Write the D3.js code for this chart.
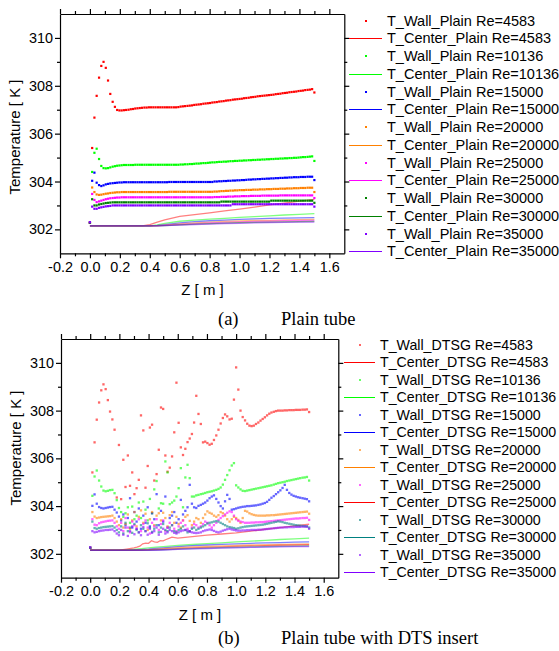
<!DOCTYPE html>
<html><head><meta charset="utf-8">
<script src="https://cdn.jsdelivr.net/npm/d3@7"></script>
<style>
body{margin:0;background:#fff}
svg{display:block}
text{font-family:"Liberation Sans",Arial,sans-serif;fill:#000}
</style></head>
<body><svg id="c" width="559" height="651"></svg>
<script>
// ---------- data ----------
const reynolds = ["4583","10136","15000","20000","25000","30000","35000"];
const xMajor = [-0.2,0,0.2,0.4,0.6,0.8,1.0,1.2,1.4,1.6];
const xMinor = [-0.1,0.1,0.3,0.5,0.7,0.9,1.1,1.3,1.5];
const yMajor = [302,304,306,308,310];
const yMinor = [303,305,307,309];

const zGrid = [0,0.015,0.03,0.045,0.061,0.076,0.091,0.106,0.121,0.136,
0.152,0.167,0.182,0.197,0.212,0.227,0.242,0.258,0.273,0.288,
0.303,0.318,0.333,0.348,0.364,0.379,0.394,0.409,0.424,0.439,
0.455,0.47,0.485,0.5,0.515,0.53,0.545,0.561,0.576,0.591,
0.606,0.621,0.636,0.652,0.667,0.682,0.697,0.712,0.727,0.742,
0.758,0.773,0.788,0.803,0.818,0.833,0.848,0.864,0.879,0.894,
0.909,0.924,0.939,0.955,0.97,0.985,1.0,1.015,1.03,1.045,
1.061,1.076,1.091,1.106,1.121,1.136,1.152,1.167,1.182,1.197,
1.212,1.227,1.242,1.258,1.273,1.288,1.303,1.318,1.333,1.348,
1.364,1.379,1.394,1.409,1.424,1.439,1.455,1.47,1.485,1.5];

// (a) plain tube, wall temperatures
const wallPlain4583 = [302.28,305.4,306.67,307.58,308.34,308.83,309.0,308.75,308.22,307.66,
307.33,307.12,306.99,306.97,306.97,306.98,306.99,307.0,307.02,307.03,
307.05,307.06,307.07,307.08,307.09,307.09,307.1,307.1,307.1,307.1,
307.1,307.1,307.1,307.1,307.1,307.1,307.1,307.1,307.1,307.11,
307.13,307.14,307.15,307.16,307.17,307.18,307.2,307.21,307.22,307.23,
307.25,307.26,307.27,307.28,307.3,307.31,307.32,307.34,307.35,307.36,
307.38,307.39,307.4,307.42,307.43,307.44,307.45,307.46,307.48,307.49,
307.5,307.52,307.53,307.54,307.56,307.57,307.58,307.59,307.6,307.61,
307.62,307.63,307.65,307.66,307.67,307.69,307.7,307.71,307.73,307.74,
307.75,307.76,307.78,307.79,307.8,307.82,307.83,307.84,307.86,307.72];
const wallPlain10136 = [302.28,304.4,305.2,305.37,304.94,304.65,304.56,304.55,304.56,304.59,
304.62,304.64,304.66,304.67,304.68,304.69,304.69,304.69,304.69,304.69,
304.7,304.7,304.7,304.7,304.7,304.7,304.7,304.7,304.7,304.7,
304.7,304.7,304.7,304.7,304.7,304.7,304.7,304.7,304.7,304.7,
304.71,304.71,304.72,304.72,304.73,304.73,304.74,304.75,304.75,304.76,
304.77,304.77,304.78,304.79,304.8,304.8,304.81,304.82,304.82,304.83,
304.83,304.84,304.85,304.85,304.86,304.86,304.87,304.87,304.88,304.88,
304.89,304.89,304.9,304.9,304.91,304.91,304.92,304.92,304.93,304.93,
304.94,304.94,304.95,304.95,304.96,304.96,304.97,304.97,304.98,304.98,
304.99,304.99,305.0,305.01,305.02,305.02,305.03,305.04,305.05,304.86];
const wallPlain15000 = [302.28,304.03,304.37,303.95,303.85,303.81,303.84,303.88,303.9,303.92,
303.93,303.94,303.95,303.96,303.96,303.97,303.97,303.97,303.97,303.97,
303.97,303.97,303.97,303.97,303.97,303.97,303.97,303.97,303.97,303.97,
303.97,303.97,303.97,303.97,303.97,303.98,303.98,303.98,303.98,303.98,
303.98,303.98,303.98,303.98,303.98,303.98,303.98,303.98,303.98,303.98,
303.98,303.98,303.98,303.98,303.98,304.0,304.0,304.01,304.01,304.02,
304.02,304.03,304.03,304.04,304.04,304.05,304.05,304.06,304.06,304.07,
304.08,304.08,304.09,304.09,304.1,304.1,304.11,304.11,304.12,304.12,
304.13,304.13,304.14,304.14,304.15,304.15,304.16,304.16,304.17,304.17,
304.18,304.18,304.18,304.19,304.19,304.19,304.2,304.2,304.2,304.06];
const wallPlain20000 = [302.28,303.75,303.56,303.46,303.44,303.45,303.47,303.49,303.5,303.52,
303.53,303.54,303.55,303.55,303.56,303.56,303.56,303.56,303.56,303.56,
303.56,303.56,303.56,303.56,303.56,303.56,303.56,303.56,303.56,303.56,
303.56,303.56,303.56,303.56,303.56,303.57,303.57,303.57,303.57,303.57,
303.57,303.57,303.57,303.57,303.57,303.57,303.57,303.57,303.57,303.57,
303.57,303.57,303.57,303.57,303.57,303.58,303.58,303.59,303.6,303.6,
303.61,303.61,303.62,303.62,303.63,303.63,303.64,303.64,303.64,303.65,
303.65,303.65,303.66,303.66,303.66,303.67,303.67,303.67,303.68,303.68,
303.68,303.69,303.69,303.69,303.7,303.7,303.7,303.71,303.71,303.71,
303.72,303.72,303.72,303.73,303.73,303.73,303.74,303.74,303.74,303.56];
const wallPlain25000 = [302.28,303.48,303.23,303.14,303.17,303.2,303.23,303.26,303.28,303.3,
303.31,303.32,303.33,303.33,303.34,303.34,303.34,303.34,303.34,303.34,
303.34,303.34,303.34,303.34,303.34,303.34,303.34,303.34,303.34,303.34,
303.34,303.34,303.34,303.34,303.34,303.34,303.34,303.34,303.34,303.34,
303.34,303.34,303.34,303.34,303.34,303.34,303.34,303.34,303.34,303.34,
303.34,303.34,303.34,303.34,303.34,303.35,303.35,303.35,303.36,303.36,
303.36,303.37,303.37,303.37,303.38,303.38,303.38,303.39,303.39,303.39,
303.39,303.4,303.4,303.4,303.4,303.4,303.41,303.41,303.41,303.41,
303.41,303.41,303.41,303.41,303.42,303.42,303.42,303.42,303.42,303.42,
303.42,303.42,303.42,303.42,303.42,303.42,303.42,303.42,303.42,303.31];
const wallPlain30000 = [302.28,303.26,303.0,303.0,303.04,303.06,303.08,303.1,303.11,303.12,
303.13,303.13,303.13,303.13,303.13,303.13,303.13,303.13,303.13,303.13,
303.13,303.13,303.13,303.13,303.13,303.13,303.13,303.13,303.13,303.13,
303.13,303.13,303.13,303.13,303.13,303.13,303.13,303.13,303.13,303.13,
303.13,303.13,303.13,303.13,303.13,303.13,303.13,303.13,303.13,303.13,
303.13,303.13,303.13,303.13,303.13,303.13,303.13,303.13,303.16,303.16,
303.16,303.16,303.16,303.16,303.16,303.16,303.16,303.16,303.16,303.16,
303.16,303.16,303.16,303.16,303.16,303.16,303.16,303.16,303.16,303.16,
303.2,303.2,303.2,303.2,303.2,303.2,303.2,303.2,303.2,303.2,
303.2,303.2,303.2,303.2,303.2,303.2,303.2,303.2,303.2,303.11];
const wallPlain35000 = [302.3,302.95,302.86,302.86,302.9,302.92,302.94,302.96,302.97,302.98,
303.0,303.0,303.0,303.0,303.0,303.0,303.0,303.0,303.0,303.0,
303.0,303.0,303.0,303.0,303.0,303.0,303.0,303.0,303.0,303.0,
303.0,303.0,303.0,303.0,303.0,303.0,303.0,303.0,303.0,303.0,
303.0,303.0,303.0,303.0,303.0,303.0,303.0,303.0,303.0,303.0,
303.0,303.0,303.0,303.0,303.0,303.0,303.0,303.0,303.0,303.0,
303.0,303.0,303.0,303.05,303.05,303.05,303.05,303.05,303.05,303.05,
303.05,303.05,303.05,303.05,303.05,303.05,303.05,303.05,303.05,303.05,
303.05,303.05,303.05,303.05,303.05,303.05,303.05,303.05,303.05,303.05,
303.05,303.05,303.05,303.05,303.05,303.05,303.05,303.05,303.05,302.95];

// centre-line temperatures
const centerZ = [0,0.1,0.2,0.25,0.3,0.35,0.4,0.45,0.5,0.6,0.7,0.8,0.9,1.0,1.1,1.2,1.3,1.4,1.5];
const centerPlain4583  = [302.15,302.15,302.15,302.15,302.15,302.15,302.2,302.3,302.4,302.54,302.62,302.69,302.77,302.85,302.93,303.02,303.1,303.18,303.25];
const centerPlain10136 = [302.15,302.15,302.15,302.15,302.15,302.15,302.15,302.19,302.25,302.34,302.39,302.43,302.46,302.5,302.53,302.56,302.6,302.63,302.66];
const centerPlain15000 = [302.15,302.15,302.15,302.15,302.15,302.15,302.15,302.17,302.2,302.27,302.32,302.36,302.39,302.42,302.44,302.46,302.47,302.48,302.49];
const centerPlain20000 = [302.15,302.15,302.15,302.15,302.15,302.15,302.15,302.16,302.18,302.23,302.27,302.3,302.33,302.35,302.37,302.38,302.4,302.41,302.42];
const centerPlain25000 = [302.15,302.15,302.15,302.15,302.15,302.15,302.15,302.15,302.17,302.21,302.24,302.27,302.29,302.31,302.33,302.34,302.36,302.37,302.38];
const centerPlain30000 = [302.15,302.15,302.15,302.15,302.15,302.15,302.15,302.15,302.16,302.19,302.22,302.24,302.26,302.28,302.29,302.3,302.31,302.32,302.33];
const centerPlain35000 = [302.15,302.15,302.15,302.15,302.15,302.15,302.15,302.15,302.16,302.18,302.2,302.22,302.24,302.25,302.27,302.28,302.29,302.3,302.3];

// (b) plain tube with DTS insert, wall temperatures
const wallDtsg4583 = [302.25,305.41,306.67,307.62,308.34,308.85,309.1,308.9,308.44,307.96,
307.63,307.2,304.36,306.56,304.29,305.94,304.8,306.12,304.85,305.41,
304.5,304.75,305.1,307.8,307.17,304.77,305.68,307.29,307.41,305.07,
305.34,306.36,308.13,308.07,306.12,305.44,305.61,306.08,307.09,309.17,
307.49,306.46,306.14,306.4,306.68,306.83,307.02,307.5,308.62,307.86,
307.44,306.67,306.7,306.64,306.57,306.61,306.77,306.96,307.2,307.46,
307.69,307.84,307.76,307.63,307.66,308.46,309.81,308.88,308.0,307.73,
307.59,307.45,307.37,307.35,307.37,307.44,307.5,307.58,307.65,307.72,
307.8,307.87,307.92,307.95,307.98,308.0,308.0,308.0,308.01,308.01,
308.02,308.02,308.02,308.03,308.03,308.03,308.04,308.04,308.05,307.94];
const wallDtsg10136 = [302.25,304.43,305.24,305.49,305.07,304.82,304.65,304.62,304.64,304.67,
304.68,304.54,304.25,303.92,303.75,303.55,303.7,303.95,303.3,303.98,
303.45,303.6,304.15,303.5,304.19,303.85,303.4,304.3,303.7,304.7,
305.05,303.9,304.12,304.1,305.87,305.41,304.08,304.15,304.23,304.4,
304.75,305.59,303.95,305.2,305.73,305.17,304.4,304.4,304.45,304.47,
304.5,304.52,304.55,304.58,304.6,304.62,304.65,304.68,304.72,304.78,
304.9,305.1,305.3,305.5,305.7,305.8,304.87,304.78,304.7,304.64,
304.63,304.65,304.67,304.69,304.71,304.73,304.75,304.77,304.79,304.81,
304.83,304.85,304.87,304.9,304.93,304.96,304.98,305.0,305.02,305.05,
305.07,305.09,305.11,305.13,305.15,305.17,305.19,305.2,305.22,305.07];
const wallDtsg15000 = [302.25,304.01,304.49,304.1,303.96,303.92,303.9,303.92,303.94,303.96,
303.97,303.85,303.73,303.56,303.4,303.65,303.2,303.5,304.33,303.1,
303.75,303.35,303.9,303.05,303.6,303.3,303.95,303.15,303.7,303.45,
304.5,303.2,303.8,303.35,304.4,303.1,303.5,303.6,303.75,303.3,
303.45,304.26,303.65,303.8,303.95,304.89,304.1,303.95,303.92,304.01,
304.05,304.1,304.15,304.23,304.33,304.4,304.45,304.3,304.15,304.0,
303.9,304.2,304.47,304.3,303.85,303.87,303.9,303.93,303.95,303.97,
303.98,304.0,304.0,304.01,304.02,304.03,304.05,304.07,304.1,304.13,
304.18,304.26,304.35,304.42,304.5,304.58,304.66,304.76,304.89,304.68,
304.55,304.48,304.43,304.4,304.37,304.35,304.33,304.31,304.29,304.2];
const wallDtsg20000 = [302.25,303.75,303.56,303.5,303.52,303.54,303.55,303.56,303.57,303.58,
303.6,303.5,303.35,303.2,303.45,303.1,303.25,303.65,303.05,303.4,
303.75,303.15,303.55,303.82,303.3,303.68,303.0,303.45,303.75,303.2,
303.6,303.7,303.4,303.72,303.5,303.15,303.62,303.75,303.3,303.55,
303.25,303.1,303.4,303.55,303.62,303.38,303.2,303.35,303.5,303.45,
303.3,303.5,303.65,303.78,303.72,303.68,303.6,303.55,303.62,303.75,
303.7,303.6,303.45,303.35,303.45,303.55,303.5,303.42,303.3,303.5,
303.8,303.77,303.7,303.66,303.63,303.61,303.6,303.6,303.6,303.6,
303.61,303.61,303.62,303.62,303.63,303.64,303.65,303.66,303.67,303.68,
303.69,303.7,303.71,303.72,303.73,303.74,303.75,303.76,303.77,303.68];
const wallDtsg25000 = [302.25,303.45,303.22,303.2,303.28,303.32,303.34,303.36,303.38,303.39,
303.4,303.3,303.15,303.05,303.3,302.95,303.5,303.1,302.9,303.35,
303.2,303.05,303.45,302.95,303.25,303.4,303.1,302.85,303.3,303.15,
303.45,303.0,303.25,303.4,302.95,303.1,303.3,303.2,303.05,302.95,
303.15,303.3,303.4,303.2,303.05,302.95,303.1,303.25,303.2,303.1,
303.15,303.25,303.35,303.3,303.2,303.1,303.2,303.3,303.42,303.5,
303.58,303.65,303.72,303.78,303.75,303.6,303.45,303.38,303.35,303.33,
303.3,303.3,303.3,303.31,303.31,303.32,303.32,303.33,303.33,303.34,
303.35,303.36,303.37,303.38,303.39,303.4,303.41,303.42,303.43,303.44,
303.45,303.46,303.47,303.48,303.48,303.49,303.5,303.5,303.51,303.42];
const wallDtsg30000 = [302.25,303.35,303.08,303.05,303.08,303.1,303.12,303.13,303.14,303.15,
303.16,303.1,303.0,302.9,303.15,302.85,303.3,302.95,303.1,302.88,
303.25,303.0,302.9,303.2,303.05,302.95,303.28,303.1,302.92,303.05,
303.2,302.9,303.1,303.25,303.0,302.95,303.1,303.2,302.95,302.9,
303.0,303.05,303.15,303.0,302.9,302.95,303.05,303.1,303.0,303.05,
303.1,303.15,303.2,303.27,303.3,303.32,303.35,303.37,303.35,303.3,
303.25,303.2,303.15,303.12,303.1,303.08,303.05,303.07,303.1,303.12,
303.14,303.15,303.16,303.17,303.18,303.19,303.2,303.21,303.22,303.24,
303.26,303.28,303.3,303.32,303.34,303.36,303.35,303.33,303.3,303.28,
303.26,303.24,303.22,303.2,303.19,303.18,303.17,303.16,303.15,303.1];
const wallDtsg35000 = [302.28,302.95,302.9,302.92,302.95,302.97,302.98,303.0,303.0,303.01,
303.02,302.95,302.85,302.78,303.0,302.8,303.1,302.75,302.95,303.15,
302.82,303.05,302.9,302.78,303.12,302.95,302.8,303.05,302.88,302.95,
303.1,302.8,302.92,303.05,302.85,302.9,303.0,302.95,302.88,302.85,
302.9,302.95,302.98,303.0,302.97,302.93,302.9,302.88,302.87,302.88,
302.9,302.95,302.98,303.0,303.02,303.0,302.96,302.92,302.9,302.93,
302.97,303.0,303.03,303.05,303.02,303.0,302.98,302.97,302.97,302.98,
302.98,302.99,302.99,303.0,303.0,303.0,303.01,303.01,303.02,303.03,
303.04,303.05,303.06,303.07,303.08,303.09,303.1,303.1,303.11,303.11,
303.12,303.12,303.12,303.13,303.13,303.13,303.14,303.14,303.14,303.05];

const centerDtsgZ4583 = [0,0.2,0.25,0.3,0.32,0.34,0.36,0.38,0.4,0.42,0.44,0.46,0.48,0.5,0.52,0.54,0.56,0.6,0.7,0.8,0.9,1.0,1.1,1.2,1.3,1.4,1.5];
const centerDtsg4583  = [302.15,302.15,302.2,302.25,302.28,302.32,302.42,302.45,302.44,302.55,302.5,302.48,302.55,302.54,302.6,302.65,302.7,302.66,302.72,302.78,302.83,302.88,302.95,303.03,303.1,303.17,303.24];
const centerDtsg10136 = [302.15,302.15,302.15,302.16,302.19,302.22,302.25,302.28,302.3,302.35,302.39,302.43,302.46,302.5,302.53,302.56,302.6,302.63,302.66];
const centerDtsg15000 = [302.15,302.15,302.15,302.15,302.16,302.18,302.2,302.23,302.25,302.3,302.34,302.37,302.4,302.42,302.44,302.46,302.47,302.49,302.5];
const centerDtsg20000 = [302.15,302.15,302.15,302.15,302.15,302.16,302.18,302.2,302.22,302.26,302.29,302.31,302.33,302.35,302.37,302.38,302.4,302.41,302.42];
const centerDtsg25000 = [302.15,302.15,302.15,302.15,302.15,302.15,302.16,302.18,302.19,302.22,302.25,302.27,302.29,302.31,302.33,302.34,302.36,302.37,302.38];
const centerDtsg30000 = [302.15,302.15,302.15,302.15,302.15,302.15,302.15,302.16,302.17,302.2,302.22,302.24,302.26,302.27,302.29,302.3,302.31,302.32,302.33];
const centerDtsg35000 = [302.15,302.15,302.15,302.15,302.15,302.15,302.15,302.15,302.16,302.19,302.21,302.22,302.24,302.25,302.27,302.28,302.29,302.3,302.3];

const colorsPlain = ["#ff0000","#00ff00","#0000ff","#ff8000","#ff00ff","#008000","#8000ff"];
const wallColorsDtsg = ["#ff0000","#00ff00","#0000ff","#ff8000","#ff00ff","#008080","#8000ff"];
const centerColorsDtsg = ["#ff0000","#00ff00","#0000ff","#ff8000","#ff0000","#008080","#8000ff"];

// ---------- drawing ----------
const svg = d3.select("#c");

function panel(p){
  const x = d3.scaleLinear().domain([-0.2,1.7]).range([p.left,p.right]);
  const y = d3.scaleLinear().domain([301,311]).range([p.bottom,p.top]);
  const cid = "clip"+p.id;
  svg.append("clipPath").attr("id",cid).append("rect")
    .attr("x",p.left).attr("y",p.top).attr("width",p.right-p.left).attr("height",p.bottom-p.top);
  const plot = svg.append("g").attr("clip-path",`url(#${cid})`);
  const line = d3.line().x(d=>x(d[0])).y(d=>y(d[1]));
  p.centers.forEach(s=>{
    plot.append("path").datum(s.z.map((z,i)=>[z,s.v[i]]))
      .attr("d",line).attr("fill","none").attr("stroke",s.color)
      .attr("stroke-width",1.3).attr("stroke-opacity",0.5);
  });
  p.walls.forEach(s=>{
    plot.append("g").selectAll("rect")
      .data(zGrid.map((z,i)=>[z,s.v[i]]).filter(d=>d[1]!==undefined))
      .join("rect")
      .attr("x",d=>x(d[0])-p.ms/2).attr("y",d=>y(d[1])-p.ms/2)
      .attr("width",p.ms).attr("height",p.ms)
      .attr("fill",s.color).attr("fill-opacity",p.mo);
  });

  const fmt = d=>d.toFixed(1);
  function ax(gen, tr, vals, size, labels, fmtf){
    const a = gen.tickValues(vals).tickSize(size).tickSizeOuter(0).tickPadding(labels?3:0)
      .tickFormat(labels?fmtf:"");
    const g = svg.append("g").attr("transform",tr).call(a);
    g.selectAll("line,path").attr("stroke","#000").attr("stroke-width",1.2);
    g.selectAll("text").attr("font-size","14.4px").attr("font-family","Liberation Sans, Arial, sans-serif").attr("fill","#000");
    return g;
  }
  ax(d3.axisBottom(x),`translate(0,${p.bottom})`,xMajor,5,true,fmt);
  ax(d3.axisBottom(x),`translate(0,${p.bottom})`,xMinor,3,false).select(".domain").remove();
  ax(d3.axisTop(x),`translate(0,${p.top})`,xMajor,5,false);
  ax(d3.axisTop(x),`translate(0,${p.top})`,xMinor,3,false).select(".domain").remove();
  const yl = ax(d3.axisLeft(y),`translate(${p.left},0)`,yMajor,5,true,d=>String(d));
  yl.selectAll("text").attr("x",-7);
  ax(d3.axisLeft(y),`translate(${p.left},0)`,yMinor,3,false).select(".domain").remove();
  ax(d3.axisRight(y),`translate(${p.right},0)`,yMajor,5,false);
  ax(d3.axisRight(y),`translate(${p.right},0)`,yMinor,3,false).select(".domain").remove();

  svg.append("text").attr("transform",`translate(${p.yTitle[0]},${p.yTitle[1]}) rotate(-90)`)
    .attr("text-anchor","middle").attr("font-size","15px").text("Temperature [ K ]");
  svg.append("text").attr("x",p.xTitle[0]).attr("y",p.xTitle[1])
    .attr("text-anchor","middle").attr("font-size","15px").text("Z [ m ]");

  // legend
  const L = p.legend;
  L.entries.forEach((e,i)=>{
    const yy = L.y0 + i*L.dy;
    const yc = Math.round(yy) + 0.5;
    if(e.type==="wall"){
      svg.append("rect").attr("x",Math.round(L.mx)-1).attr("y",Math.round(yy)-1).attr("width",2).attr("height",2)
        .attr("fill",e.color).attr("fill-opacity",p.mo);
    } else {
      svg.append("line").attr("x1",L.lx0).attr("x2",L.lx1).attr("y1",yc).attr("y2",yc)
        .attr("stroke",e.color).attr("stroke-width",1);
    }
    svg.append("text").attr("x",L.tx).attr("y",yy+5).attr("font-size",L.fs+"px").text(e.label);
  });

  // caption
  svg.append("text").attr("x",218).attr("y",p.capY).attr("font-size","18.5px")
    .style("font-family","'Liberation Serif','Times New Roman',serif").text(p.capA);
  svg.append("text").attr("x",281).attr("y",p.capY).attr("font-size","18.5px")
    .style("font-family","'Liberation Serif','Times New Roman',serif").text(p.capB);
}

const wallsPlain = [wallPlain4583,wallPlain10136,wallPlain15000,wallPlain20000,wallPlain25000,wallPlain30000,wallPlain35000];
const centersPlain = [centerPlain4583,centerPlain10136,centerPlain15000,centerPlain20000,centerPlain25000,centerPlain30000,centerPlain35000];
const wallsDtsg = [wallDtsg4583,wallDtsg10136,wallDtsg15000,wallDtsg20000,wallDtsg25000,wallDtsg30000,wallDtsg35000];
const centersDtsg = [centerDtsg4583,centerDtsg10136,centerDtsg15000,centerDtsg20000,centerDtsg25000,centerDtsg30000,centerDtsg35000];

function legendEntries(tag, wc, cc){
  const out = [];
  reynolds.forEach((re,i)=>{
    out.push({type:"wall",color:wc[i],label:`T_Wall_${tag} Re=${re}`});
    out.push({type:"center",color:cc[i],label:`T_Center_${tag} Re=${re}`});
  });
  return out;
}

panel({
  id:"a", left:60, right:344.3, top:14, bottom:253.3, ms:2.2, mo:1,
  walls: wallsPlain.map((v,i)=>({v, color:colorsPlain[i]})),
  centers: centersPlain.map((v,i)=>({z:centerZ, v, color:colorsPlain[i]})),
  yTitle:[19.5,137], xTitle:[202.5,295],
  legend:{entries:legendEntries("Plain",colorsPlain,colorsPlain), y0:20.7, dy:17.75, mx:365.7, lx0:349, lx1:382, tx:387, fs:14.5},
  capY:325, capA:"(a)", capB:"Plain tube"
});
panel({
  id:"b", left:61, right:338.3, top:339, bottom:577.7, ms:2.3, mo:0.6,
  walls: wallsDtsg.map((v,i)=>({v, color:wallColorsDtsg[i]})),
  centers: centersDtsg.map((v,i)=>({z: i===0?centerDtsgZ4583:centerZ, v, color:centerColorsDtsg[i]})),
  yTitle:[20.5,448], xTitle:[200,620],
  legend:{entries:legendEntries("DTSG",wallColorsDtsg,centerColorsDtsg), y0:345, dy:17.48, mx:360, lx0:344, lx1:375, tx:380, fs:14.2},
  capY:644, capA:"(b)", capB:"Plain tube with DTS insert"
});
</script></body></html>
